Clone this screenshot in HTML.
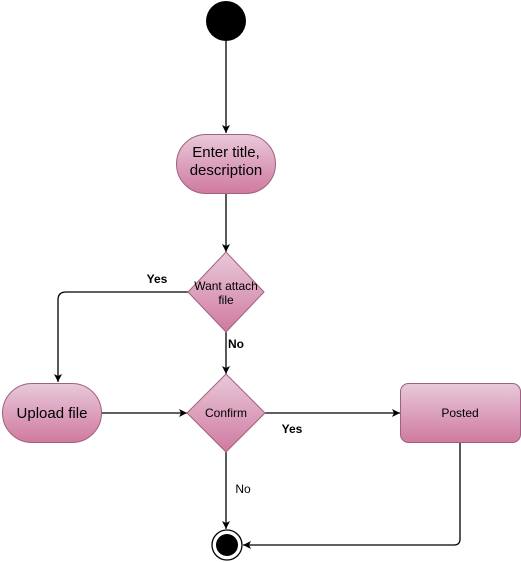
<!DOCTYPE html>
<html><head><style>
html,body{margin:0;padding:0;background:#fff;}
svg{display:block;font-family:"Liberation Sans",Arial,sans-serif;}
</style></head><body>
<svg width="521" height="562" viewBox="0 0 521 562">
<defs>
<linearGradient id="g" x1="0" y1="0" x2="0" y2="1">
<stop offset="0" stop-color="#e8c9da"/><stop offset="1" stop-color="#d07a9f"/>
</linearGradient>
<marker id="a" markerWidth="10" markerHeight="10" refX="9" refY="5" orient="auto" markerUnits="userSpaceOnUse">
<path d="M1,1 L9,5 L1,9 L3,5 Z" fill="#000"/>
</marker>
</defs>
<g stroke="#000" stroke-width="1.3" fill="none">
<line x1="226" y1="41" x2="226" y2="133" marker-end="url(#a)"/>
<line x1="226" y1="194" x2="226" y2="252" marker-end="url(#a)"/>
<path d="M188,292 H66 Q58,292 58,300 V382" marker-end="url(#a)"/>
<line x1="226" y1="332" x2="226" y2="374" marker-end="url(#a)"/>
<line x1="101" y1="413" x2="187" y2="413" marker-end="url(#a)"/>
<line x1="265" y1="413" x2="400" y2="413" marker-end="url(#a)"/>
<line x1="226" y1="452" x2="226" y2="529" marker-end="url(#a)"/>
<path d="M460,443 V539 Q460,545 454,545 H243" marker-end="url(#a)"/>
</g>
<circle cx="226" cy="21" r="20" fill="#000"/>
<g fill="url(#g)" stroke="#a0607f" stroke-width="1">
<rect x="176.5" y="134.5" width="99" height="59" rx="29.5"/>
<polygon points="226,252 264,292 226,332 188,292"/>
<polygon points="226,374 265,413 226,452 187,413"/>
<rect x="2.5" y="383.5" width="99" height="59" rx="29.5"/>
<rect x="400.5" y="383.5" width="120" height="59" rx="8"/>
</g>
<circle cx="227" cy="545" r="15" fill="#fff" stroke="#000" stroke-width="1.3"/>
<circle cx="227" cy="545" r="11" fill="#000"/>
<g fill="#000" text-anchor="middle">
<text x="226" y="157" font-size="15">Enter title,</text>
<text x="226" y="175" font-size="15">description</text>
<text x="226" y="290" font-size="12">Want attach</text>
<text x="226" y="304" font-size="12">file</text>
<text x="226" y="417" font-size="12">Confirm</text>
<text x="52" y="418" font-size="15">Upload file</text>
<text x="460" y="417" font-size="12">Posted</text>
<text x="157" y="283" font-size="12" font-weight="bold">Yes</text>
<text x="236" y="348" font-size="12" font-weight="bold">No</text>
<text x="292" y="433" font-size="12" font-weight="bold">Yes</text>
<text x="243" y="493" font-size="12">No</text>
</g>
</svg>
</body></html>
